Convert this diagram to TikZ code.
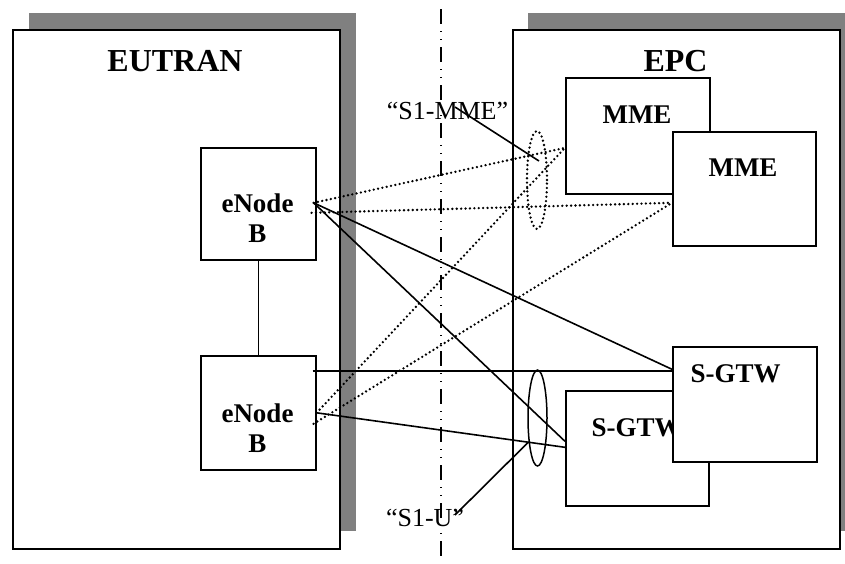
\documentclass[tikz,border=0pt]{standalone}
\usepackage{fontspec}
\setmainfont{Liberation Serif}
\usetikzlibrary{positioning,calc,shapes.geometric}
\definecolor{shgray}{RGB}{128,128,128}
\tikzset{
  dom/.style={draw, line width=1.8pt, fill=white, anchor=north west, inner sep=0pt},
  dshadow/.style={fill=shgray},
  ent/.style={draw, line width=1.6pt, fill=white, anchor=north west, inner sep=0pt},
  ttl/.style={font=\fontsize{32}{34}\selectfont\bfseries, anchor=base, inner sep=0pt},
  elab/.style={font=\fontsize{27}{30}\selectfont\bfseries, anchor=base, inner sep=0pt},
  ilab/.style={font=\fontsize{26}{28}\selectfont, anchor=base, inner sep=0pt},
  cpl/.style={line width=2.6pt, line cap=round, dash pattern=on 0pt off 4.4pt},
  upl/.style={line width=1.6pt},
  loopc/.style={ellipse, draw, cpl, inner sep=0pt, minimum width=20pt, minimum height=98pt},
  loopu/.style={ellipse, draw, line width=1.5pt, inner sep=0pt, minimum width=19pt, minimum height=96pt},
  bdr/.style={line width=2.2pt, dash pattern=on 15pt off 7pt on 1pt off 7pt on 1pt off 7pt},
}

\begin{document}
\begin{tikzpicture}[x=1pt, y=-1pt]
  \useasboundingbox (0,0) rectangle (845,563);
  % domains with shadows
  \fill[dshadow] (29,13) rectangle (356,531);
  \fill[dshadow] (528,13) rectangle (845,531);
  \node[dom, minimum width=327pt, minimum height=519pt] (eutran) at (12,29) {};
  \node[dom, minimum width=327pt, minimum height=519pt] (epc) at (512,29) {};
  \node[ttl] (eutranl) at (175,71) {EUTRAN};
  \node[ttl] (epcl) at (675.5,71) {EPC};

  % entities
  \node[ent, minimum width=115pt, minimum height=112pt] (enb1) at (200,147) {};
  \node[ent, minimum width=115pt, minimum height=114pt] (enb2) at (200,355) {};
  \node[ent, minimum width=144pt, minimum height=116pt] (mme1) at (565,77) {};
  \node[elab] (mme1l) at (637,123) {MME};
  \node[ent, minimum width=143pt, minimum height=114pt] (mme2) at (672,131) {};
  \node[elab] (mme2l) at (743,176) {MME};
  \node[ent, minimum width=143pt, minimum height=115pt] (sgw1) at (565,390) {};
  \node[elab] (sgw1l) at (636.5,436) {S-GTW};
  \node[ent, minimum width=144pt, minimum height=115pt] (sgw2) at (672,346) {};
  \node[elab] (sgw2l) at (735.5,382) {S-GTW};
  \node[elab, align=center] (enb1l) at (257.5,242) {eNode\\B};
  \node[elab, align=center] (enb2l) at (257.5,452) {eNode\\B};

  % connector end points
  \coordinate (e1a) at ($(enb1.east)+(-3,-1)$);
  \coordinate (e1b) at ($(enb1.east)+(-5,9)$);
  \coordinate (e2a) at ($(enb2.east)+(0,0)$);
  \coordinate (e2b) at ($(enb2.east)+(-3,11)$);
  \coordinate (e2c) at ($(enb2.east)+(-4,-42)$);
  \coordinate (m1in) at ($(mme1.west)+(0,12)$);
  \coordinate (m2in) at ($(mme2.west)+(0,14)$);
  \coordinate (s2in) at ($(sgw2.west)+(0,-35)$);
  \coordinate (s2h) at ($(sgw2.west)+(0,-33.5)$);
  \coordinate (s1a) at ($(sgw1.west)+(0,-7)$);
  \coordinate (s1b) at ($(sgw1.west)+(0,-1)$);

  % control plane (S1-MME)
  \draw[cpl] (e1a) -- (m1in);
  \draw[cpl] (e1b) -- (m2in);
  \draw[cpl] (e2a) -- (m1in);
  \draw[cpl] (e2b) -- (m2in);
  % user plane (S1-U)
  \draw[upl] (e1a) -- (s2in);
  \draw[upl] (e1a) -- (s1a);
  \draw[upl] (e2c) -- (s2h);
  \draw[upl] (e2a) -- (s1b);
  \draw[upl] (enb1.south) -- (enb2.north);

  % interface loops and labels
  \node[loopc] (mmeloop) at (537,180) {};
  \node[loopu] (uloop) at (537.5,418) {};
  \node[ilab] (mmel) at (447.5,119) {“S1-MME”};
  \node[ilab] (ul) at (425,526) {“S1-U”};
  \coordinate (mmetip) at ($(mmeloop.center)+(2,-19)$);
  \coordinate (utip) at ($(uloop.center)+(-9,24)$);
  \draw[upl] ($(mmel.base)+(7.5,-12)$) -- (mmetip);
  \draw[upl] ($(ul.base)+(30,-11)$) -- (utip);

  % domain border
  \draw[bdr] (441,9) -- (441,563);
\end{tikzpicture}
\end{document}
